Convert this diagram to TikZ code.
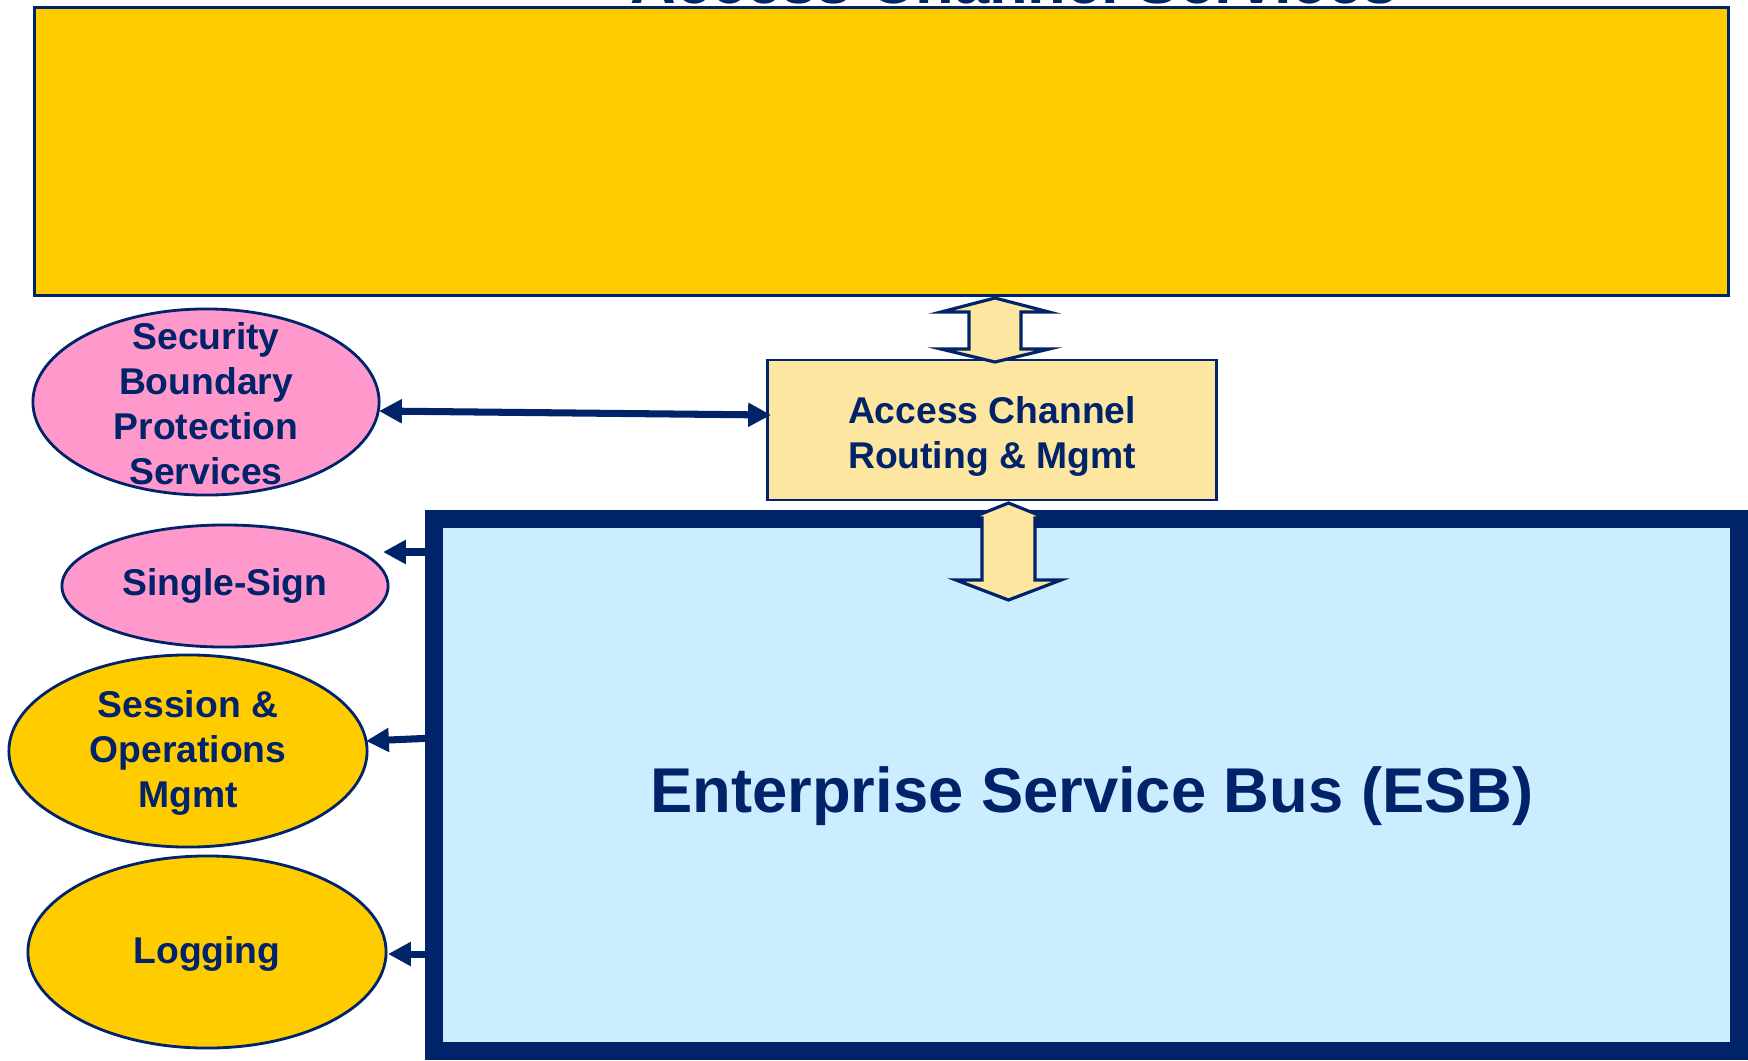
\documentclass[tikz,border=0pt]{standalone}
\usepackage{fontspec}
\setmainfont{Liberation Sans}
\usetikzlibrary{shapes.geometric,arrows.meta,calc}
\definecolor{navy}{HTML}{002369}
\definecolor{topyellow}{HTML}{FFCC00}
\definecolor{lightyellow}{HTML}{FCE6A0}
\definecolor{pinkfill}{HTML}{FF99CC}
\definecolor{lightblue}{HTML}{CCECFF}
\tikzset{
  smalltext/.style={text=navy, font=\bfseries\fontsize{10.6}{12.8}\selectfont, align=center, inner sep=0pt},
  boxstyle/.style={draw=navy, line width=0.8pt, inner sep=0pt},
  ellstyle/.style={ellipse, draw=navy, line width=0.8pt, inner sep=0pt},
  thinarrow/.style={draw=navy, line width=2pt, -{Triangle[length=6.5pt,width=6.5pt]}},
  thindouble/.style={draw=navy, line width=2pt, {Triangle[length=6.5pt,width=6.5pt]}-{Triangle[length=6.5pt,width=6.5pt]}},
  blockarrow/.style={draw=navy, fill=lightyellow, line width=0.9pt, line join=miter}
}
\begin{document}
\begin{tikzpicture}[x=0.01cm,y=-0.01cm]
\useasboundingbox (0,0) rectangle (1748,1060);
\clip (0,0) rectangle (1748,1060);

% top box and its (cut off) title
\node[boxstyle, fill=topyellow, minimum width=16.93cm, minimum height=2.88cm] (top) at (881.5,151.5) {};
\node[anchor=base, text=navy, font=\bfseries\fontsize{18}{21}\selectfont, inner sep=0pt] (title) at (1014,3) {Access Channel Services};

% access channel routing box
\node[boxstyle, fill=lightyellow, minimum width=4.48cm, minimum height=1.40cm,
      label={[smalltext, yshift=-0.06cm]center:Access Channel\\Routing \& Mgmt}] (acr) at (992,430) {};

% ESB
\node[draw=navy, fill=lightblue, line width=0.18cm, minimum width=13.05cm, minimum height=5.32cm, inner sep=0pt,
      label={[text=navy, font=\bfseries\fontsize{18}{21}\selectfont, inner sep=0pt, xshift=0.055cm, yshift=-0.11cm]center:Enterprise Service Bus (ESB)}] (esb) at (1086.5,785) {};

% ellipses
\node[ellstyle, fill=pinkfill, minimum width=3.46cm, minimum height=1.86cm,
      label={[smalltext, yshift=-0.02cm]center:Security\\Boundary\\Protection\\Services}] (sec) at (206,402) {};
\node[ellstyle, fill=pinkfill, minimum width=3.26cm, minimum height=1.22cm,
      label={[smalltext]center:Single-Sign}] (sso) at (225,586) {};
\node[ellstyle, fill=topyellow, minimum width=3.58cm, minimum height=1.92cm,
      label={[smalltext, yshift=-0.02cm]center:Session \&\\Operations\\Mgmt}] (ses) at (188,751) {};
\node[ellstyle, fill=topyellow, minimum width=3.58cm, minimum height=1.92cm,
      label={[smalltext, yshift=-0.02cm]center:Logging}] (log) at (207,952) {};

% block double arrows
\draw[blockarrow] (995,298) -- (1049,312) -- (1021,312) -- (1021,349) -- (1049,349) -- (995,362)
  -- (941,349) -- (969,349) -- (969,312) -- (941,312) -- cycle;
\draw[blockarrow] (1008.5,503) -- (1046,518) -- (1035,518) -- (1035,580) -- (1061,580) -- (1008.5,600)
  -- (956,580) -- (982,580) -- (982,518) -- (971,518) -- cycle;

% security <-> access channel
\coordinate (secP) at (379,411);
\coordinate (acrP) at (771,415);
\draw[thindouble] (secP) -- (acrP);

% ESB -> left services
\coordinate (ssoTip) at (383,552);
\coordinate (sesTip) at (366,741);
\coordinate (sesStart) at (434,738);
\coordinate (logTip) at (388,954);
\draw[thinarrow] (esb.west |- ssoTip) -- (ssoTip);
\draw[thinarrow] (sesStart) -- (sesTip);
\draw[thinarrow] (esb.west |- logTip) -- (logTip);
\end{tikzpicture}
\end{document}
